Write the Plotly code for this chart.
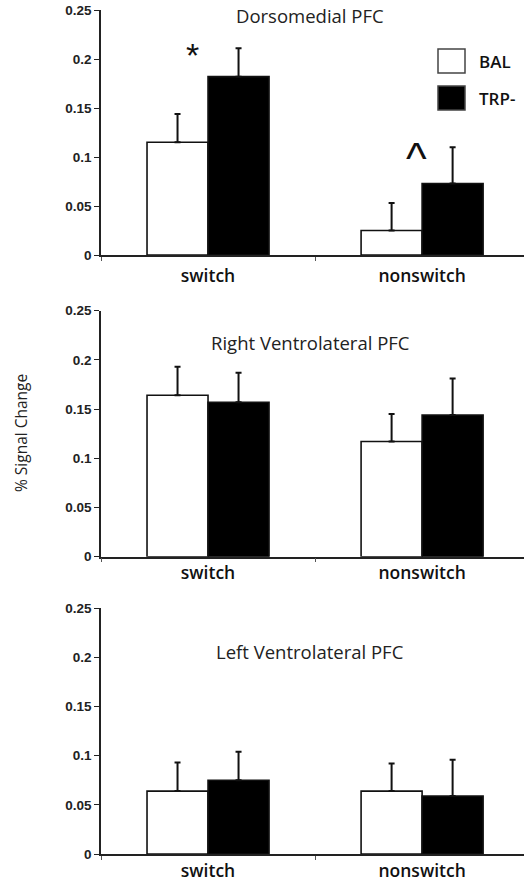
"""Signal change in three PFC regions: BAL vs TRP- for switch / nonswitch trials."""

import plotly.graph_objects as go

W, H = 524, 882

conditions = ["switch", "nonswitch"]
regions = ["Dorsomedial PFC", "Right Ventrolateral PFC", "Left Ventrolateral PFC"]

# mean % signal change and upper error (SEM) per region
bal_means = [[0.115, 0.025], [0.164, 0.117], [0.064, 0.064]]
bal_errs = [[0.029, 0.028], [0.029, 0.028], [0.029, 0.028]]
trp_means = [[0.182, 0.073], [0.157, 0.144], [0.075, 0.059]]
trp_errs = [[0.029, 0.037], [0.030, 0.037], [0.029, 0.037]]

y_ticks = [0, 0.05, 0.1, 0.15, 0.2, 0.25]
y_ticktext = ["0", "0.05", "0.1", "0.15", "0.2", "0.25"]

# pixel rows of y=0 and y=0.25 for each panel
panel_px = [(255, 10), (556.7, 310.7), (854, 608.3)]
title_px = [15, 342, 651]
label_standoff = [4, 0, 0]

fig = go.Figure()

for i in range(3):
    xa = "x" if i == 0 else f"x{i + 1}"
    ya = "y" if i == 0 else f"y{i + 1}"
    fig.add_trace(go.Bar(
        x=conditions, y=bal_means[i], xaxis=xa, yaxis=ya, name="BAL",
        marker={"color": "white", "line": {"color": "#111", "width": 1.6}},
        error_y={"type": "data", "symmetric": False, "array": bal_errs[i],
                 "arrayminus": [0, 0], "color": "#111", "thickness": 2, "width": 3},
        showlegend=False,
    ))
    fig.add_trace(go.Bar(
        x=conditions, y=trp_means[i], xaxis=xa, yaxis=ya, name="TRP-",
        marker={"color": "black", "line": {"color": "#111", "width": 1.6}},
        error_y={"type": "data", "symmetric": False, "array": trp_errs[i],
                 "arrayminus": [0, 0], "color": "#111", "thickness": 2, "width": 3},
        showlegend=False,
    ))

layout = {}
for i, (y0, y1) in enumerate(panel_px):
    sfx = "" if i == 0 else str(i + 1)
    layout[f"xaxis{sfx}"] = {
        "domain": [101 / W, 1],
        "range": [-0.5, 1.476],
        "anchor": f"y{sfx}",
        "automargin": False,
        "showline": True, "linecolor": "#222", "linewidth": 1.5,
        "ticks": "outside", "tickson": "boundaries", "ticklen": 4,
        "tickcolor": "#555", "tickwidth": 1,
        "ticklabelstandoff": label_standoff[i],
        "showgrid": False, "zeroline": False,
        "tickfont": {"family": "Open Sans, sans-serif", "size": 17.5,
                     "color": "#111", "weight": 600},
    }
    layout[f"yaxis{sfx}"] = {
        "domain": [(H - y0) / H, (H - y1) / H],
        "range": [0, 0.25],
        "anchor": f"x{sfx}",
        "automargin": False,
        "tickvals": y_ticks, "ticktext": y_ticktext,
        "showline": True, "linecolor": "#222", "linewidth": 1.5,
        "ticks": "outside", "ticklen": 5, "tickcolor": "#222",
        "showgrid": False, "zeroline": False,
        "tickfont": {"family": "Arial, sans-serif", "size": 13.5,
                     "color": "#222", "weight": 600},
    }

fig.update_layout(
    **layout,
    width=W, height=H,
    margin={"l": 0, "r": 0, "t": 0, "b": 0},
    paper_bgcolor="white", plot_bgcolor="white",
    barmode="group", bargap=0.43, bargroupgap=0,
    showlegend=False,
)

# panel titles
for i, t in enumerate(regions):
    fig.add_annotation(
        text=t, x=310 / W, y=1 - title_px[i] / H, xref="paper", yref="paper",
        showarrow=False, xanchor="center", yanchor="middle",
        font={"family": "Open Sans, sans-serif", "size": 18.5, "color": "#222"},
    )

# significance marks in the top panel
fig.add_annotation(text="*", x=192 / W, y=1 - 55 / H, xref="paper", yref="paper",
                   showarrow=False, xanchor="center", yanchor="middle",
                   font={"family": "Arial", "size": 34, "color": "#111"})
fig.add_annotation(text="^", x=416 / W, y=1 - 158 / H, xref="paper", yref="paper",
                   showarrow=False, xanchor="center", yanchor="middle",
                   font={"family": "Arial", "size": 44, "color": "#111"})

# y-axis title
fig.add_annotation(
    text="% Signal Change", x=21 / W, y=1 - 433 / H, xref="paper", yref="paper",
    showarrow=False, textangle=-90, xanchor="center", yanchor="middle",
    font={"family": "Open Sans, sans-serif", "size": 15.5, "color": "#222"},
)

# legend drawn by hand
for j, (label, fill, top) in enumerate([("BAL", "white", 49), ("TRP-", "black", 86)]):
    fig.add_shape(type="rect", xref="paper", yref="paper",
                  x0=438 / W, x1=465 / W, y0=1 - (top + 24) / H, y1=1 - top / H,
                  fillcolor=fill, line={"color": "#444", "width": 1.5})
    fig.add_annotation(text=label, x=477 / W, y=1 - (top + 12) / H,
                       xref="paper", yref="paper", showarrow=False,
                       xanchor="left", yanchor="middle",
                       font={"family": "Open Sans, sans-serif", "size": 17,
                             "color": "#111", "weight": 600})

# drop the default body margin so the figure fills the window exactly
fig.write_html("out.html", config={"displayModeBar": False},
               post_script="document.body.style.margin='0';")
